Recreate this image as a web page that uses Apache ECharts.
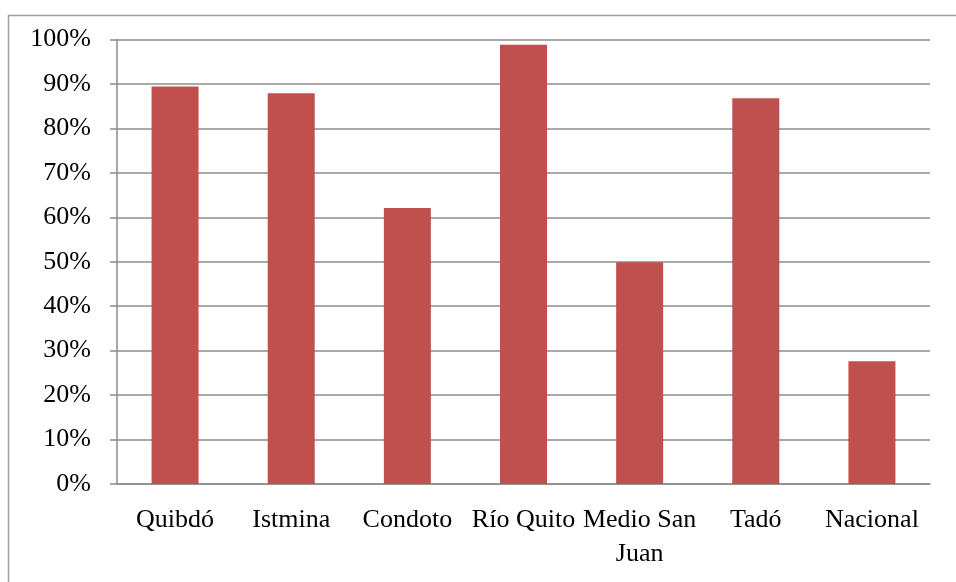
<!DOCTYPE html>
<html>
<head>
<meta charset="utf-8">
<script src="https://cdn.jsdelivr.net/npm/echarts@6/dist/echarts.min.js"></script>
<style>
  html, body { margin: 0; padding: 0; background: #fff; }
  #chart { width: 956px; height: 582px; }
</style>
</head>
<body>
<div id="chart"></div>
<script>
// categorias del eje x
const municipios = ['Quibdó', 'Istmina', 'Condoto', 'Río Quito', 'Medio San\nJuan', 'Tadó', 'Nacional'];
// porcentajes por municipio
const valores = [89.4, 87.9, 62.1, 98.8, 49.9, 86.8, 27.6];
// etiquetas del eje y
const ejeMin = 0;
const ejeMax = 100;
const ejePaso = 10;

const fuente = '"Liberation Serif", "Times New Roman", serif';
const gris = '#8c8c8c';

const chart = echarts.init(document.getElementById('chart'));
chart.setOption({
  animation: false,
  textStyle: { fontFamily: fuente },
  graphic: [{
    type: 'rect',
    left: 6, top: 13,
    shape: { width: 1000, height: 1000 },
    style: { fill: 'none', stroke: '#a0a0a0', lineWidth: 1.5 },
    silent: true
  }],
  grid: { left: 117, right: 26, top: 39.5, bottom: 98 },
  xAxis: {
    type: 'category',
    data: municipios,
    axisLine: { lineStyle: { color: gris, width: 1.5 } },
    axisTick: { length: 7, lineStyle: { color: gris, width: 1.5 } },
    axisLabel: { color: '#000', fontSize: 26, fontFamily: fuente, margin: 19, lineHeight: 34, interval: 0 }
  },
  yAxis: {
    type: 'value',
    min: ejeMin, max: ejeMax, interval: ejePaso,
    axisLine: { show: true, lineStyle: { color: gris, width: 1.5 } },
    axisTick: { show: true, length: 7, lineStyle: { color: gris, width: 1.5 } },
    splitLine: { lineStyle: { color: gris, width: 1.5 } },
    axisLabel: { color: '#000', fontSize: 26, fontFamily: fuente, margin: 26, formatter: '{value}%' }
  },
  series: [{
    type: 'bar',
    data: valores,
    barWidth: 47,
    itemStyle: { color: '#C0504D' }
  }]
});
</script>
</body>
</html>
